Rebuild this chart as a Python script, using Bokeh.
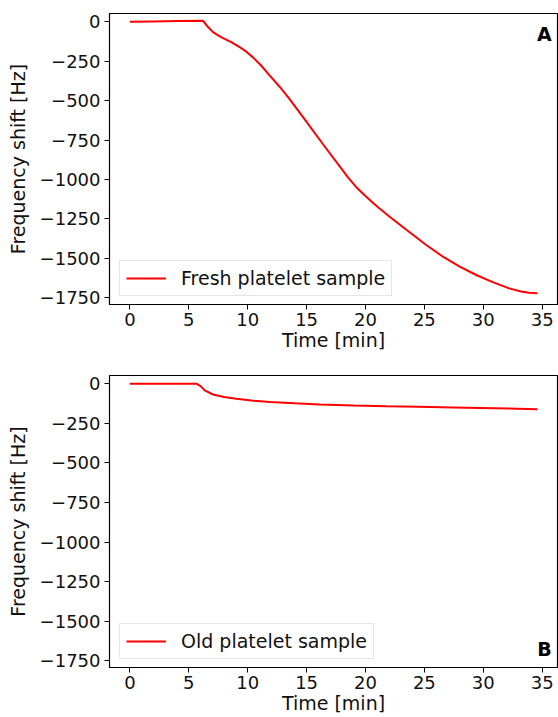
from bokeh.plotting import figure
from bokeh.models import Range1d, FixedTicker, Legend, LegendItem, Label
from bokeh.layouts import column
from bokeh.embed import file_html
from bokeh.resources import INLINE

# ---- data ----
t_fresh = [0, 2, 4, 6.2, 6.64, 7.06, 7.49, 7.91, 8.61, 9.32, 9.89, 10.45, 11.16, 11.86,
           12.71, 13.56, 14.97, 16.38, 17.8, 18.5, 19.2, 20.0, 20.6, 21.3, 22.0, 23.5,
           25.1, 26.5, 28.0, 29.4, 30.8, 32.2, 33.2, 33.9, 34.6]
f_fresh = [0, 2, 4, 6, -34, -66, -87, -104, -129, -161, -190, -226, -279, -340,
           -412, -490, -632, -775, -915, -985, -1047, -1105, -1145, -1190, -1233, -1320,
           -1412, -1485, -1552, -1605, -1650, -1690, -1710, -1718, -1720]

t_old = [0, 3, 5.65, 6.0, 6.36, 7.06, 8.0, 9.04, 10.5, 11.9, 14.0, 16.1, 19.0, 21.8,
         24.5, 27.4, 31.0, 34.6]
f_old = [0, 0, 0, -15, -42, -68, -84, -95, -107, -116, -124, -131, -137, -142,
         -146, -150, -155, -161]

y_ticks = [0, -250, -500, -750, -1000, -1250, -1500, -1750]
x_ticks = [0, 5, 10, 15, 20, 25, 30, 35]
labels = ["Fresh platelet sample", "Old platelet sample"]
panel_tags = ["A", "B"]

FONT = "DejaVu Sans"
FS_TICK = "18px"
FS_LAB = "19px"


def make_panel(t, f, label, tag, height, border_top, border_bottom, tag_y):
    p = figure(width=558, height=height, output_backend="svg", toolbar_location=None,
               x_range=Range1d(-1.73, 36.3), y_range=Range1d(-1792, 52),
               min_border_left=109, min_border_right=1,
               min_border_top=border_top, min_border_bottom=border_bottom)
    p.background_fill_color = "white"
    p.border_fill_color = "white"
    p.outline_line_color = "black"
    p.outline_line_width = 1.2
    p.grid.visible = False

    r = p.line(t, f, line_color="red", line_width=2)

    p.xaxis.ticker = FixedTicker(ticks=x_ticks)
    p.yaxis.ticker = FixedTicker(ticks=y_ticks)
    p.yaxis.major_label_overrides = {v: str(v).replace("-", "\u2212") for v in y_ticks}
    for ax in (p.xaxis, p.yaxis):
        ax.major_tick_in = 0
        ax.major_tick_out = 5
        ax.minor_tick_in = 0
        ax.minor_tick_out = 0
        ax.axis_line_color = "black"
        ax.major_tick_line_color = "black"
        ax.major_label_text_font = FONT
        ax.major_label_text_font_size = FS_TICK
        ax.major_label_text_color = "#111111"
        ax.axis_label_text_font = FONT
        ax.axis_label_text_font_size = FS_LAB
        ax.axis_label_text_font_style = "normal"
        ax.axis_label_text_color = "#111111"
    p.xaxis.major_label_standoff = 3
    p.xaxis.axis_label_standoff = 0
    p.xaxis.axis_label = "Time [min]"
    p.yaxis.axis_label = "Frequency shift [Hz]"
    p.yaxis.major_label_standoff = 4
    p.yaxis.axis_label_standoff = 8

    leg = Legend(items=[LegendItem(label=label, renderers=[r])],
                 location=(10, 8), margin=0, padding=6, spacing=0,
                 glyph_width=40, glyph_height=22, label_standoff=15,
                 label_text_font=FONT, label_text_font_size=FS_LAB,
                 label_text_color="#111111",
                 border_line_color="#cccccc", border_line_width=1,
                 background_fill_color="white", background_fill_alpha=0.8)
    p.add_layout(leg, "center")

    p.add_layout(Label(x=35.8, y=tag_y, text=tag, text_align="right",
                       text_baseline="middle", text_font=FONT,
                       text_font_size=FS_LAB, text_font_style="bold",
                       text_color="black"))
    return p


p1 = make_panel(t_fresh, f_fresh, labels[0], panel_tags[0], 360, 13, 56, -80)
p2 = make_panel(t_old, f_old, labels[1], panel_tags[1], 357, 15, 50, -1675)

layout = column(p1, p2, spacing=0)
open("out.html", "w").write(file_html(layout, INLINE))
